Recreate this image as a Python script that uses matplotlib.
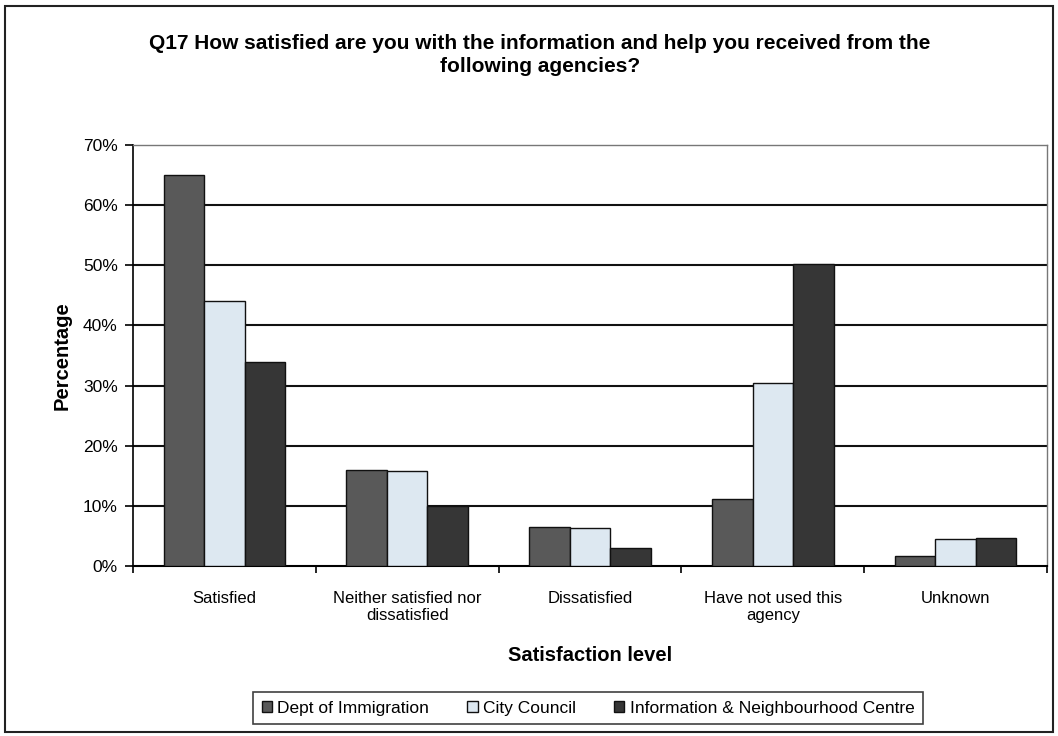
import matplotlib
matplotlib.use("Agg")
import matplotlib.pyplot as plt
import numpy as np
from matplotlib.patches import Rectangle

plt.rcParams['font.family'] = ['Liberation Sans', 'DejaVu Sans']

categories = ["Satisfied", "Neither satisfied nor\ndissatisfied", "Dissatisfied",
              "Have not used this\nagency", "Unknown"]
series_names = ["Dept of Immigration", "City Council", "Information & Neighbourhood Centre"]
dept = [65.0, 16.0, 6.5, 11.2, 1.7]
council = [44.0, 15.8, 6.4, 30.4, 4.5]
info = [34.0, 10.0, 3.0, 50.2, 4.7]
yticks = [0, 10, 20, 30, 40, 50, 60, 70]
ytick_labels = ["0%", "10%", "20%", "30%", "40%", "50%", "60%", "70%"]

colors = ["#595959", "#dde8f1", "#363636"]

W, H = 1058, 736
fig = plt.figure(figsize=(W / 100, H / 100), dpi=100)
ax = fig.add_axes([133 / W, 1 - 566 / H, (1047 - 133) / W, (566 - 145) / H])

x = np.arange(len(categories))
bw = 0.222
for i, (vals, name) in enumerate(zip([dept, council, info], series_names)):
    ax.bar(x + (i - 1) * bw, vals, width=bw, color=colors[i], edgecolor="#111111",
           linewidth=1.0, label=name, zorder=3)

ax.set_xlim(-0.5, len(categories) - 0.5)
ax.set_ylim(0, 70)
ax.set_yticks(yticks)
ax.set_yticklabels(ytick_labels, fontsize=12.5)
for yv in yticks[1:-1]:
    ax.axhline(yv, color="#111111", linewidth=1.5, zorder=0)
ax.set_xticks(x)
ax.set_xticklabels(categories, fontsize=12)
ax.tick_params(axis='x', length=0, pad=18)
ax.set_xticks(np.arange(len(categories) + 1) - 0.5, minor=True)
ax.tick_params(axis='x', which='minor', length=5, width=1.2, direction='out')
ax.tick_params(axis='y', length=6, width=1.2, direction='out', pad=5)
for s in ["top", "right"]:
    ax.spines[s].set_color("#777777")
    ax.spines[s].set_linewidth(1.0)
ax.spines["left"].set_linewidth(1.2)
ax.spines["bottom"].set_linewidth(1.5)

ax.set_ylabel("Percentage", fontsize=14.5, fontweight="bold", labelpad=8)
ax.set_xlabel("Satisfaction level", fontsize=14.5, fontweight="bold", labelpad=16)

fig.text(540 / W, 1 - 55 / H,
         "Q17 How satisfied are you with the information and help you received from the\nfollowing agencies?",
         ha="center", va="center", fontsize=15, fontweight="bold", linespacing=1.25)

leg = fig.legend(loc="center", bbox_to_anchor=(588 / W, 1 - 708 / H), ncol=3,
                 fontsize=12.5, frameon=True, fancybox=False, edgecolor="#111111",
                 handlelength=0.6, handleheight=0.6, handletextpad=0.3, columnspacing=2.2,
                 borderpad=0.5)
leg.get_frame().set_linewidth(1.2)

fig.patches.append(Rectangle((5 / W, 4 / H), 1 - 10 / W, 1 - 10 / H, transform=fig.transFigure,
                             fill=False, edgecolor="#222222", linewidth=1.5))

fig.savefig("out.png", dpi=100)
